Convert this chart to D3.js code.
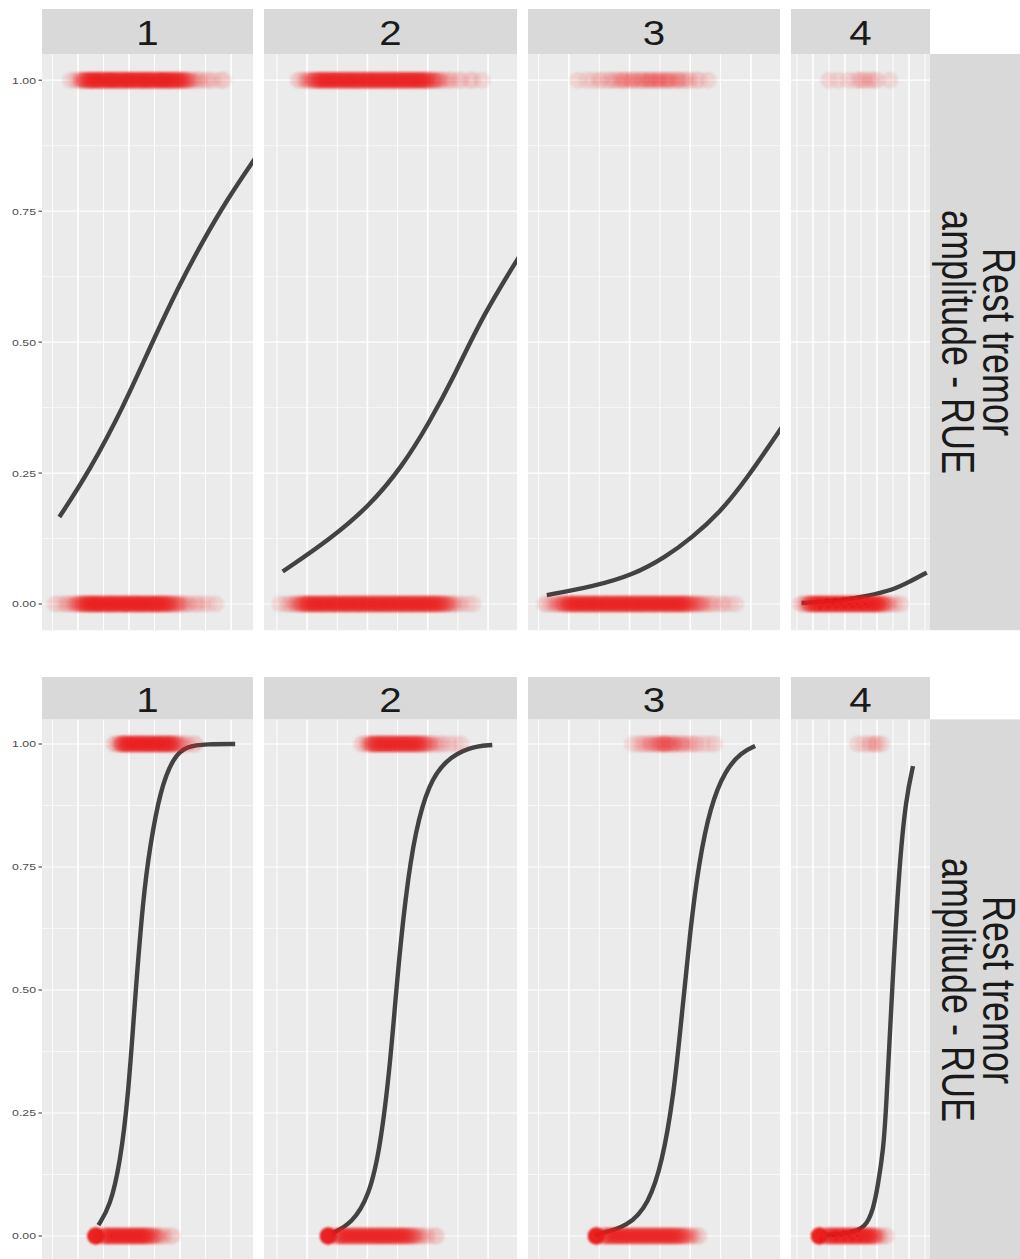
<!DOCTYPE html>
<html>
<head>
<meta charset="utf-8">
<script src="https://cdn.jsdelivr.net/npm/d3@7"></script>
<style>
  body { margin: 0; background: #fff; }
  svg { display: block; font-family: "Liberation Sans", Arial, sans-serif; }
</style>
</head>
<body>
<script>
// facet labels
const colLabels = ["1", "2", "3", "4"];
const rowLabelLines = ["Rest tremor", "amplitude - RUE"];

// y axis
const yTicks = [0, 0.25, 0.5, 0.75, 1];
const yTickLabels = ["0.00", "0.25", "0.50", "0.75", "1.00"];
const yDomain = [-0.05, 1.05];

// x scales (free per column, no labels shown)
const xDomains = [[5.9, 88.6], [5.7, 89.6], [6.5, 89.6], [6.3, 93.1]];
const xBreaks = [20, 40, 60, 80];

// observations: number of cases at each integer x, starting at "from"
// outcome 0 and outcome 1, one entry per column
const topZeros = [
  { from: 11, n: [1,0,1,0,1,1,1,1,2,2,3,4,4,5,5,5,6,5,5,4,5,6,5,5,5,4,5,5,6,5,4,5,5,5,6,5,4,5,5,5,5,4,5,4,4,3,3,2,2,2,1,1,1,1,0,1,1,0,1,0,1,0,0,1] },
  { from: 11, n: [1,0,1,1,1,2,2,3,4,5,5,6,5,5,6,5,5,5,6,5,5,5,6,5,5,5,6,5,5,6,5,5,5,6,5,5,6,5,5,5,6,5,5,5,6,5,5,5,6,5,5,5,5,4,4,3,2,2,1,1,1,0,1,0,1] },
  { from: 12, n: [1,1,1,1,2,2,3,4,5,5,6,5,5,5,6,5,5,6,5,5,5,6,5,5,5,6,5,5,5,6,5,5,6,5,5,5,6,5,5,5,6,5,5,5,6,5,5,4,3,3,2,2,2,1,1,1,1,0,1,1,0,1,0,1] },
  { from: 12, n: [1,0,1,1,1,2,2,3,3,3,4,3,3,3,4,3,3,3,3,4,3,3,3,3,4,3,3,3,4,3,3,3,3,4,3,3,3,3,4,3,3,3,4,3,3,3,3,4,3,3,2,2,2,1,1,1,1,0,1,0,1,0,0,1] }
];
const topOnes = [
  { from: 17, n: [1,0,1,1,2,3,4,4,5,5,6,5,5,4,5,5,6,5,5,5,4,5,6,5,5,5,4,5,5,5,6,5,5,4,5,5,5,6,5,5,5,4,5,4,4,3,2,2,1,1,1,1,0,1,1,0,1,0,0,1,1] },
  { from: 17, n: [1,1,1,2,2,3,4,5,5,6,5,5,6,5,5,5,6,5,5,6,5,5,5,6,5,5,6,5,5,5,6,5,5,6,5,5,5,6,5,5,6,5,5,4,3,3,2,2,1,1,1,1,0,1,1,0,0,1,1,0,0,1] },
  { from: 23, n: [1,0,0,1,0,1,0,1,1,0,1,1,1,1,1,2,1,1,2,1,1,2,1,2,2,1,2,2,1,2,2,1,1,2,1,1,1,1,0,1,1,0,0,1] },
  { from: 30, n: [1,0,0,0,0,0,1,0,0,0,0,0,1,0,0,0,0,1,0,1,0,1,0,1,0,0,1,0,1,0,1,0,0,0,0,0,0,0,1] }
];
const bottomZeros = [
  { from: 27, n: [30,0,1,3,5,5,5,5,5,5,5,5,5,5,5,5,5,5,5,5,4,3,3,2,2,1,1,1,0,1,1] },
  { from: 27, n: [30,0,1,3,5,5,5,5,5,5,5,5,5,5,5,5,5,5,5,5,5,5,5,5,5,5,4,4,3,2,2,1,1,1,0,1,1] },
  { from: 29, n: [30,0,2,4,5,5,5,5,5,5,5,5,5,5,5,5,5,5,5,5,5,5,5,5,5,5,5,4,4,3,2,2,1,1,1] },
  { from: 24, n: [30,0,0,1,2,3,3,3,3,3,3,3,3,3,3,3,3,3,3,3,3,3,3,3,3,3,3,3,3,3,3,3,3,2,2,2,1,1,1,0,1,0,1] }
];
const bottomOnes = [
  { from: 34, n: [1,1,2,4,5,5,5,5,5,5,5,5,5,5,5,5,5,5,5,5,5,5,5,4,3,2,2,1,1,1,0,1,1] },
  { from: 38, n: [1,1,2,3,5,5,5,5,5,5,5,5,5,5,5,5,5,5,5,4,4,3,2,2,1,1,1,1,0,1,0,1,0,1] },
  { from: 41, n: [1,0,1,1,1,1,2,1,2,2,3,3,2,2,2,1,2,1,1,1,1,1,0,1,0,1,0,1] },
  { from: 48, n: [1,0,0,0,1,0,0,1,0,1,0,1,1,0,0,1] }
];

// fitted probability curves [x, p]
const topFit = [
  [[12.7,0.166],[24.7,0.256],[37.8,0.376],[49.5,0.504],[60.0,0.612],[69.1,0.694],[78.3,0.771],[90.0,0.855]],
  [[11.9,0.062],[27.2,0.122],[40.5,0.186],[51.5,0.262],[60.4,0.345],[69.2,0.440],[78.0,0.548],[90.5,0.665]],
  [[12.7,0.017],[27.8,0.033],[41.0,0.055],[52.0,0.090],[60.8,0.128],[69.5,0.173],[78.4,0.237],[90.5,0.340]],
  [[12.9,0.002],[36.9,0.006],[53.6,0.015],[70.2,0.027],[80.6,0.043],[91.1,0.060]]
];
const bottomFit = [
  [[28.0,0.022],[32.6,0.060],[36.5,0.148],[39.7,0.283],[42.4,0.486],[45.6,0.690],[48.2,0.791],[52.2,0.906],[57.4,0.974],[62.6,0.996],[70.5,1.0],[81.6,1.0]],
  [[28.3,0.005],[34.9,0.026],[40.5,0.080],[44.3,0.181],[47.6,0.351],[49.8,0.520],[52.6,0.690],[55.9,0.825],[60.4,0.920],[65.9,0.967],[73.6,0.994],[81.4,0.998]],
  [[28.7,0.002],[39.7,0.019],[46.3,0.066],[50.7,0.148],[54.5,0.283],[57.3,0.453],[60.0,0.622],[62.8,0.757],[66.6,0.873],[71.5,0.947],[77.0,0.984],[81.4,0.996]],
  [[28.6,0.002],[43.1,0.006],[52.5,0.016],[57.7,0.053],[60.8,0.107],[63.9,0.175],[65.6,0.25],[69.4,0.50],[73.8,0.75],[78.1,0.89],[82.5,0.955]]
];

const width = 1020, height = 1259;
const textStretch = 1.28;

// panel columns (pixel edges) and rows
const cols = [[42, 253], [264, 517], [528, 780], [791, 930]];
const rows = [
  { strip: [9, 54], panel: [54, 630.2], zeros: topZeros, ones: topOnes, fit: topFit },
  { strip: [677, 719.4], panel: [719.4, 1260.6], zeros: bottomZeros, ones: bottomOnes, fit: bottomFit }
];

const svg = d3.select("body").append("svg")
    .attr("width", width)
    .attr("height", height);

const defs = svg.append("defs");

// slight softening of the overlapping points
defs.append("filter").attr("id", "soft")
    .attr("x", "-10%").attr("y", "-50%").attr("width", "120%").attr("height", "200%")
  .append("feGaussianBlur").attr("stdDeviation", 0.9);

function minorOf(breaks, domain) {
  const step = breaks[1] - breaks[0];
  return d3.range(breaks[0] - step / 2, breaks[breaks.length - 1] + step, step)
    .filter(v => v >= domain[0] && v <= domain[1]);
}

// turn a count table into one record per case
function cases(table, outcome) {
  const out = [];
  table.n.forEach((k, i) => {
    for (let j = 0; j < k; j++) out.push({ x: table.from + i, y: outcome });
  });
  return out;
}

const line = d3.line().curve(d3.curveBasis);

rows.forEach((row, ri) => {
  const y = d3.scaleLinear().domain(yDomain).range([row.panel[1], row.panel[0]]);
  const yMinor = minorOf(yTicks, yDomain);

  cols.forEach((c, ci) => {
    const x = d3.scaleLinear().domain(xDomains[ci]).range(c);
    const xMinor = minorOf(xBreaks, xDomains[ci]);
    const g = svg.append("g");

    // panel background
    g.append("rect")
        .attr("x", c[0]).attr("y", row.panel[0])
        .attr("width", c[1] - c[0]).attr("height", row.panel[1] - row.panel[0])
        .attr("fill", "#EBEBEB");

    // grid
    g.selectAll(".hmin").data(yMinor).enter().append("line")
        .attr("x1", c[0]).attr("x2", c[1])
        .attr("y1", d => y(d)).attr("y2", d => y(d))
        .attr("stroke", "#fff").attr("stroke-width", 0.6);
    g.selectAll(".vmin").data(xMinor).enter().append("line")
        .attr("y1", row.panel[0]).attr("y2", row.panel[1])
        .attr("x1", d => x(d)).attr("x2", d => x(d))
        .attr("stroke", "#fff").attr("stroke-width", 0.9);
    g.selectAll(".hmaj").data(yTicks).enter().append("line")
        .attr("x1", c[0]).attr("x2", c[1])
        .attr("y1", d => y(d)).attr("y2", d => y(d))
        .attr("stroke", "#fff").attr("stroke-width", 1.2);
    g.selectAll(".vmaj").data(xBreaks.filter(v => v >= xDomains[ci][0] && v <= xDomains[ci][1])).enter().append("line")
        .attr("y1", row.panel[0]).attr("y2", row.panel[1])
        .attr("x1", d => x(d)).attr("x2", d => x(d))
        .attr("stroke", "#fff").attr("stroke-width", 1.6);

    // clip
    const clipId = "clip-" + ri + "-" + ci;
    defs.append("clipPath").attr("id", clipId)
      .append("rect")
        .attr("x", c[0]).attr("y", row.panel[0])
        .attr("width", c[1] - c[0]).attr("height", row.panel[1] - row.panel[0]);

    const inner = g.append("g").attr("clip-path", "url(#" + clipId + ")");

    // fitted curve
    inner.append("path")
        .datum(row.fit[ci])
        .attr("d", line.x(d => x(d[0])).y(d => y(d[1])))
        .attr("fill", "none")
        .attr("stroke", "#333333")
        .attr("stroke-opacity", 0.92)
        .attr("stroke-width", 4.4);

    // points, one circle per case
    const pts = cases(row.zeros[ci], 0).concat(cases(row.ones[ci], 1));
    inner.append("g").attr("filter", "url(#soft)")
      .selectAll(".pt").data(pts).enter().append("circle")
        .attr("cx", d => x(d.x))
        .attr("cy", d => y(d.y))
        .attr("r", 8.5)
        .attr("fill", "#EE2222")
        .attr("fill-opacity", 0.1);

    // top strip
    g.append("rect")
        .attr("x", c[0]).attr("y", row.strip[0])
        .attr("width", c[1] - c[0]).attr("height", row.strip[1] - row.strip[0])
        .attr("fill", "#D9D9D9");
    g.append("text")
        .attr("transform", `translate(${(c[0] + c[1]) / 2},${(row.strip[0] + row.strip[1]) / 2 + 1}) scale(1.12,1)`)
        .attr("text-anchor", "middle")
        .attr("dominant-baseline", "central")
        .attr("font-size", 36)
        .attr("fill", "#1A1A1A")
        .text(colLabels[ci]);

    // y axis on first column
    if (ci === 0) {
      g.selectAll(".tick").data(yTicks).enter().append("line")
          .attr("x1", c[0] - 3.5).attr("x2", c[0])
          .attr("y1", d => y(d)).attr("y2", d => y(d))
          .attr("stroke", "#333").attr("stroke-width", 1);
      g.selectAll(".tlab").data(yTicks).enter().append("text")
          .attr("transform", d => `translate(${c[0] - 6},${y(d)}) scale(${textStretch},1)`)
          .attr("text-anchor", "end")
          .attr("dominant-baseline", "central")
          .attr("font-size", 9.6)
          .attr("fill", "#4D4D4D")
          .text((d, i) => yTickLabels[i]);
    }
  });

  // right strip
  const sx0 = cols[3][1];
  svg.append("rect")
      .attr("x", sx0).attr("y", row.panel[0])
      .attr("width", 100).attr("height", row.panel[1] - row.panel[0])
      .attr("fill", "#D9D9D9");
  const cy = (row.panel[0] + row.panel[1]) / 2;
  const rl = svg.append("text")
      .attr("transform", `translate(978,${cy}) scale(${textStretch},1) rotate(90)`)
      .attr("text-anchor", "middle")
      .attr("font-size", 36)
      .attr("fill", "#1A1A1A");
  rowLabelLines.forEach((t, i) => {
    rl.append("tspan")
        .attr("x", 0)
        .attr("y", (i - 0.5) * 32.4)
        .attr("dominant-baseline", "central")
        .text(t);
  });
});
</script>
</body>
</html>
